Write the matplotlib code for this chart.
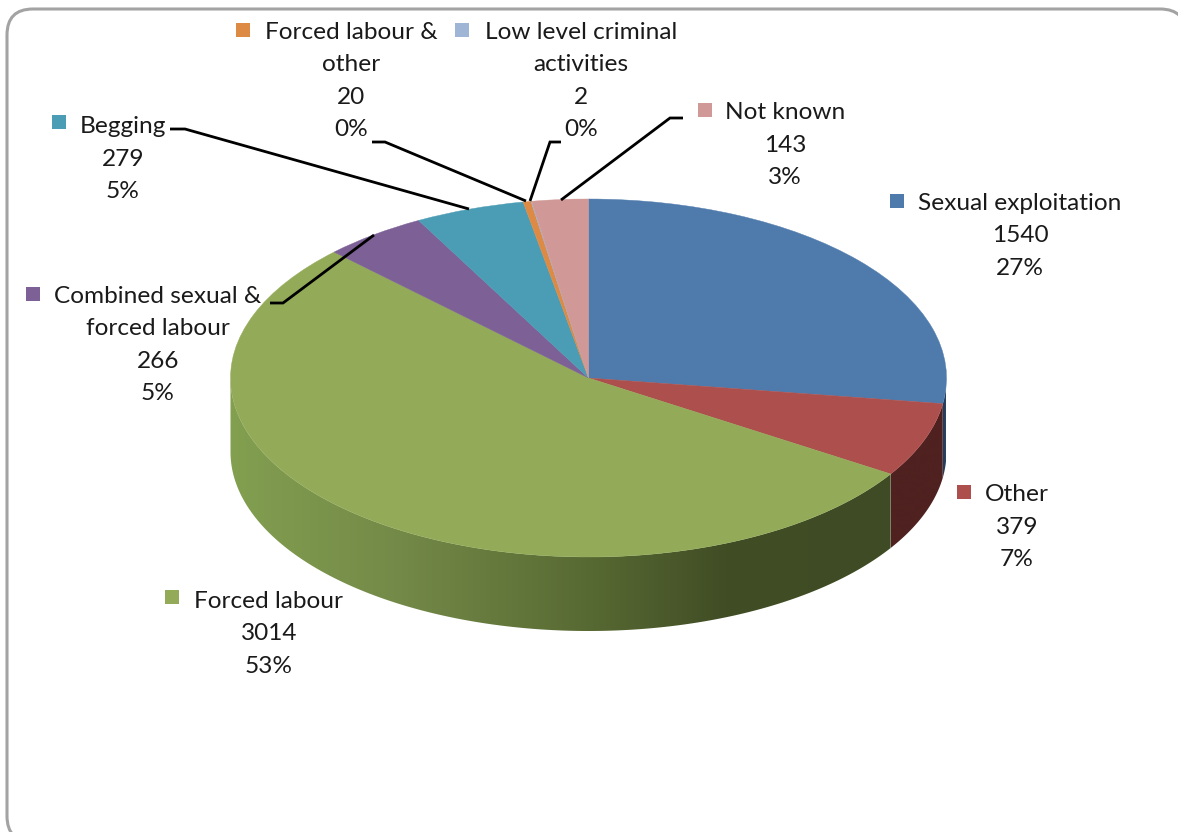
import numpy as np
import matplotlib
matplotlib.use("Agg")
import matplotlib.pyplot as plt
from matplotlib.colors import LinearSegmentedColormap
from matplotlib.patches import FancyBboxPatch, Rectangle, PathPatch
from matplotlib.path import Path

# ---- data ----
categories = ["Sexual exploitation", "Other", "Forced labour",
              "Combined sexual &\nforced labour", "Begging",
              "Forced labour &\nother", "Low level criminal\nactivities", "Not known"]
values = [1540, 379, 3014, 266, 279, 20, 2, 143]
percents = [27, 7, 53, 5, 5, 0, 0, 3]
colors = ["#4f7bac", "#ad4f4c", "#93ab59", "#7c6096", "#4a9db4", "#dd8a45", "#9fb5d6", "#d09896"]

# ---- layout (pixels of the 1178x832 image) ----
W, H = 1178, 832
CX, CY, RX, RY, DEPTH = 588.5, 378, 358, 179, 74
# text centre x, block centre y, swatch centre x, swatch centre y
label_pos = [(1020, 234, 897, 201), (1017, 525, 964, 492), (269, 632, 172, 597),
             (158, 343, 33, 294), (123, 157, 59, 122), (351, 79, 243, 30),
             (581, 79, 462, 30), (785, 143, 705, 110)]
leaders = [None, None, None,
           [(270, 303), (283, 303), (374, 235)],
           [(170, 129), (185, 129), (469, 209)],
           [(372, 142), (385, 142), (526, 201)],
           [(561, 142), (550, 142), (530, 201)],
           [(683, 118), (670, 118), (561, 200)]]

plt.rcParams["font.family"] = ["Lato", "DejaVu Sans"]
fig = plt.figure(figsize=(W / 100, H / 100), dpi=100, facecolor="white")

# overlay in pixel coordinates: frame first (behind the pie)
bg = fig.add_axes([0, 0, 1, 1], zorder=0)
bg.set_xlim(0, W); bg.set_ylim(H, 0); bg.axis("off")
r = 26
bg.add_patch(FancyBboxPatch((7 + r, 9 + r), 1186 - 7 - 2 * r, 842 - 9 - 2 * r,
                            boxstyle=f"round,pad={r},rounding_size={r}",
                            fc="white", ec="#a3a3a3", lw=2.2))

# pie axes: unit ellipse + depth below
d = DEPTH / RY
ax = fig.add_axes([(CX - RX) / W, 1 - (CY + RY + DEPTH) / H, 2 * RX / W, (2 * RY + DEPTH) / H], zorder=1)
ax.pie(values, colors=colors, startangle=90, counterclock=False, radius=1,
       wedgeprops=dict(linewidth=0.3, zorder=3))
for w, c in zip(ax.patches, colors):
    w.set_edgecolor(c)
ax.set_aspect("auto")
ax.set_xlim(-1, 1); ax.set_ylim(-1 - d, 1)
ax.axis("off")

# side wall from the same values
edges = np.concatenate([[0], np.cumsum(values)]) / np.sum(values) * 2 * np.pi  # clockwise from top


def side_path(a0, a1):
    a0, a1 = max(a0, np.pi / 2), min(a1, 3 * np.pi / 2)
    if a1 <= a0:
        return None
    t = np.linspace(a0, a1, 200)
    x, y = np.sin(t), np.cos(t)
    pts = np.r_[np.c_[x, y], np.c_[x[::-1], y[::-1] - d]]
    return Path(np.r_[pts, pts[:1]], closed=True)


side_cmaps = {
    0: LinearSegmentedColormap.from_list("b", ["#233a57", "#2c4768"]),
    1: LinearSegmentedColormap.from_list("r", ["#4f2120", "#4f2120"]),
    2: LinearSegmentedColormap.from_list("g", [(0, "#82a050"), (0.06, "#7f9a4e"), (0.25, "#748a48"),
                                               (0.54, "#586a33"), (0.75, "#414d25"), (1, "#3f4b24")]),
}
for i, cmap in side_cmaps.items():
    p = side_path(edges[i], edges[i + 1])
    if p is None:
        continue
    x0, x1 = p.vertices[:, 0].min(), p.vertices[:, 0].max()
    im = ax.imshow(np.linspace(0, 1, 512)[None, :], cmap=cmap, extent=(x0, x1, -1 - d, 1),
                   aspect="auto", zorder=1, interpolation="bilinear")
    patch = PathPatch(p, fc="none", ec="none", transform=ax.transData)
    ax.add_patch(patch)
    im.set_clip_path(patch)
ax.set_xlim(-1, 1); ax.set_ylim(-1 - d, 1)
ax.set_aspect("auto")

# labels and leaders
fg = fig.add_axes([0, 0, 1, 1], zorder=2)
fg.set_xlim(0, W); fg.set_ylim(H, 0); fg.axis("off"); fg.patch.set_alpha(0)
for name, v, pc, col, (tx, ty, sx, sy), ld in zip(categories, values, percents, colors, label_pos, leaders):
    fg.text(tx, ty + 2, f"{name}\n{v}\n{pc}%", ha="center", va="center", fontsize=17.6,
            linespacing=1.66, color="#1a1a1a")
    fg.add_patch(Rectangle((sx - 7, sy - 7), 14, 14, fc=col, ec="none"))
    if ld:
        xs, ys = zip(*ld)
        fg.plot(xs, ys, color="black", lw=2.0, solid_joinstyle="miter", solid_capstyle="butt")

fig.savefig("out.png", dpi=100, facecolor="white")
